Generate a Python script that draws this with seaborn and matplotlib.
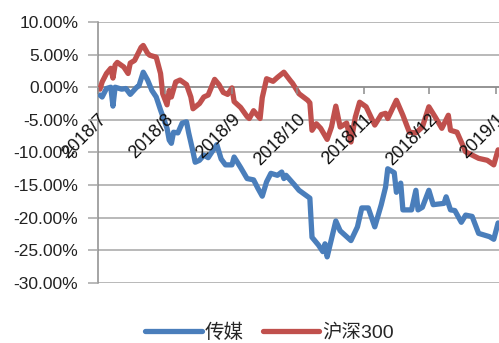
import matplotlib
matplotlib.use("Agg")
import matplotlib.pyplot as plt
import seaborn as sns
import pandas as pd

# 传媒 (media sector) cumulative return, %
media_dates = [
    "2018-07-02", "2018-07-03", "2018-07-05", "2018-07-07", "2018-07-08", "2018-07-09",
    "2018-07-12", "2018-07-14", "2018-07-16", "2018-07-19", "2018-07-20", "2018-07-22",
    "2018-07-24", "2018-07-26", "2018-07-28", "2018-07-30", "2018-08-02", "2018-08-03",
    "2018-08-04", "2018-08-05", "2018-08-07", "2018-08-09", "2018-08-11", "2018-08-12",
    "2018-08-14", "2018-08-15", "2018-08-17", "2018-08-19", "2018-08-21", "2018-08-25",
    "2018-08-27", "2018-08-29", "2018-09-01", "2018-09-02", "2018-09-05", "2018-09-08",
    "2018-09-11", "2018-09-13", "2018-09-15", "2018-09-17", "2018-09-19", "2018-09-22",
    "2018-09-24", "2018-09-25", "2018-09-26", "2018-09-30", "2018-10-02", "2018-10-07",
    "2018-10-08", "2018-10-11", "2018-10-13", "2018-10-14", "2018-10-15", "2018-10-19",
    "2018-10-21", "2018-10-26", "2018-10-29", "2018-10-31", "2018-11-03", "2018-11-06",
    "2018-11-09", "2018-11-11", "2018-11-12", "2018-11-15", "2018-11-16", "2018-11-18",
    "2018-11-19", "2018-11-23", "2018-11-25", "2018-11-26", "2018-11-28", "2018-12-01",
    "2018-12-03", "2018-12-08", "2018-12-09", "2018-12-11", "2018-12-13", "2018-12-16",
    "2018-12-18", "2018-12-21", "2018-12-24", "2018-12-29", "2018-12-31", "2019-01-02",
]
media_values = [
    -1.2, -1.5, -0.2, 0.0, -2.9, 0.0,
    -0.3, -0.2, -1.1, 0.0, 0.2, 2.3,
    1.1, -0.5, -1.5, -3.5, -6.3, -8.1,
    -8.6, -6.9, -7.0, -5.5, -5.3, -7.0,
    -9.9, -11.5, -11.2, -10.4, -10.8, -8.8,
    -11.0, -11.9, -11.9, -10.7, -12.3, -14.0,
    -14.2, -15.5, -16.7, -14.5, -13.2, -13.5,
    -13.0, -14.0, -13.5, -15.0, -15.8, -17.0,
    -23.0, -24.2, -25.2, -24.0, -26.0, -20.5,
    -22.0, -23.5, -21.4, -18.5, -18.5, -21.4,
    -18.0, -15.3, -12.5, -13.1, -16.1, -14.7,
    -18.8, -18.8, -15.8, -18.8, -18.4, -15.8,
    -18.0, -17.8, -16.8, -18.8, -18.9, -20.7,
    -19.6, -19.8, -22.4, -22.9, -23.3, -20.8,
]

# 沪深300 cumulative return, %
hs300_dates = [
    "2018-07-02", "2018-07-03", "2018-07-05", "2018-07-07", "2018-07-08", "2018-07-09",
    "2018-07-10", "2018-07-13", "2018-07-15", "2018-07-16", "2018-07-18", "2018-07-21",
    "2018-07-22", "2018-07-24", "2018-07-25", "2018-07-28", "2018-07-30", "2018-07-31",
    "2018-08-02", "2018-08-03", "2018-08-04", "2018-08-06", "2018-08-08", "2018-08-11",
    "2018-08-13", "2018-08-14", "2018-08-17", "2018-08-19", "2018-08-21", "2018-08-24",
    "2018-08-26", "2018-08-28", "2018-08-30", "2018-09-01", "2018-09-02", "2018-09-05",
    "2018-09-08", "2018-09-09", "2018-09-11", "2018-09-14", "2018-09-15", "2018-09-17",
    "2018-09-20", "2018-09-22", "2018-09-25", "2018-09-28", "2018-09-29", "2018-10-02",
    "2018-10-06", "2018-10-07", "2018-10-08", "2018-10-10", "2018-10-12", "2018-10-15",
    "2018-10-17", "2018-10-19", "2018-10-21", "2018-10-24", "2018-10-26", "2018-10-28",
    "2018-10-30", "2018-11-02", "2018-11-06", "2018-11-09", "2018-11-11", "2018-11-12",
    "2018-11-16", "2018-11-19", "2018-11-22", "2018-11-25", "2018-11-28", "2018-12-01",
    "2018-12-04", "2018-12-07", "2018-12-10", "2018-12-11", "2018-12-14", "2018-12-18",
    "2018-12-24", "2018-12-28", "2018-12-31", "2019-01-02",
]
hs300_values = [
    -0.3, 0.8, 2.1, 2.9, 1.4, 3.4,
    3.8, 3.1, 2.1, 3.7, 4.1, 6.1,
    6.4, 5.2, 4.9, 4.6, 2.1, -1.0,
    -2.7, -0.5, -1.5, 0.8, 1.1, 0.4,
    -1.5, -3.3, -2.5, -1.5, -1.2, 1.2,
    0.4, -0.8, -1.1, -0.1, -2.2, -3.1,
    -4.5, -4.8, -3.6, -4.8, -1.6, 1.3,
    0.9, 1.5, 2.3, 1.0, 0.6, -1.0,
    -2.0, -2.4, -6.6, -5.6, -6.3, -8.0,
    -6.1, -2.9, -6.1, -5.5, -8.4, -4.6,
    -2.3, -3.0, -5.8, -4.2, -4.0, -4.8,
    -2.0, -4.3, -6.9, -7.0, -6.1, -3.0,
    -4.6, -6.3, -4.3, -6.6, -6.9, -9.9,
    -10.9, -11.2, -11.9, -9.6,
]

series_names = ["传媒", "沪深300"]
series_colors = ["#4a7ebb", "#c0504d"]
month_ticks = ["2018-07-01", "2018-08-01", "2018-09-01", "2018-10-01",
               "2018-11-01", "2018-12-01", "2019-01-01"]
month_labels = ["2018/7", "2018/8", "2018/9", "2018/10", "2018/11", "2018/12", "2019/1"]
y_ticks = [10, 5, 0, -5, -10, -15, -20, -25, -30]

df = pd.concat([
    pd.DataFrame({"date": pd.to_datetime(media_dates), "ret": media_values, "series": series_names[0]}),
    pd.DataFrame({"date": pd.to_datetime(hs300_dates), "ret": hs300_values, "series": series_names[1]}),
])

sns.set_theme(style="white")
plt.rcParams["font.family"] = ["Liberation Sans", "Noto Sans CJK SC", "DejaVu Sans"]

fig = plt.figure(figsize=(4.99, 3.43), dpi=100)
ax = fig.add_axes([0.196, 0.175, 0.804, 0.761])

# horizontal gridlines behind the lines; tick labels stay on top
for y in y_ticks:
    ax.axhline(y, color="#a6a6a6", linewidth=1.1, zorder=0.5)

sns.lineplot(data=df, x="date", y="ret", hue="series", hue_order=series_names,
             palette=series_colors, linewidth=3.8, ax=ax, legend=False, zorder=2)

ax.set_ylim(-30, 10)
ax.set_xlim(pd.Timestamp("2018-07-01"), pd.Timestamp("2019-01-02 10:00"))
ax.set_yticks(y_ticks)
ax.set_yticklabels([f"{v:.2f}%" for v in y_ticks], fontsize=12.5, color="#222222")
ax.grid(False)
ax.set_axisbelow(False)

ax.set_xticks(pd.to_datetime(month_ticks), month_labels)

for s in ["top", "right"]:
    ax.spines[s].set_visible(False)
ax.spines["left"].set_color("#8c8c8c")
ax.spines["left"].set_linewidth(1.1)
ax.spines["left"].set_zorder(1)
ax.spines["bottom"].set_position(("data", 0))
ax.spines["bottom"].set_color("#8c8c8c")
ax.spines["bottom"].set_linewidth(1.1)
ax.spines["bottom"].set_zorder(1)
ax.tick_params(axis="y", length=7, width=1.1, color="#a6a6a6", pad=7, left=True)
ax.tick_params(axis="x", length=5, width=1.1, color="#8c8c8c", pad=12, bottom=True,
               labelrotation=45, labelsize=13, labelcolor="#111111")
ax.set_xlabel("")
ax.set_ylabel("")

handles = [plt.Line2D([], [], color=c, linewidth=3.8) for c in series_colors]
fig.legend(handles, series_names, loc="center", bbox_to_anchor=(0.54, 0.03), ncol=2,
           frameon=False, fontsize=14, handlelength=2.9, handletextpad=0.15, columnspacing=1.0)

fig.canvas.draw()
for lab in ax.xaxis.get_majorticklabels():
    lab.set_ha("right")
    lab.set_rotation_mode("anchor")

fig.savefig("out.png", dpi=100)
